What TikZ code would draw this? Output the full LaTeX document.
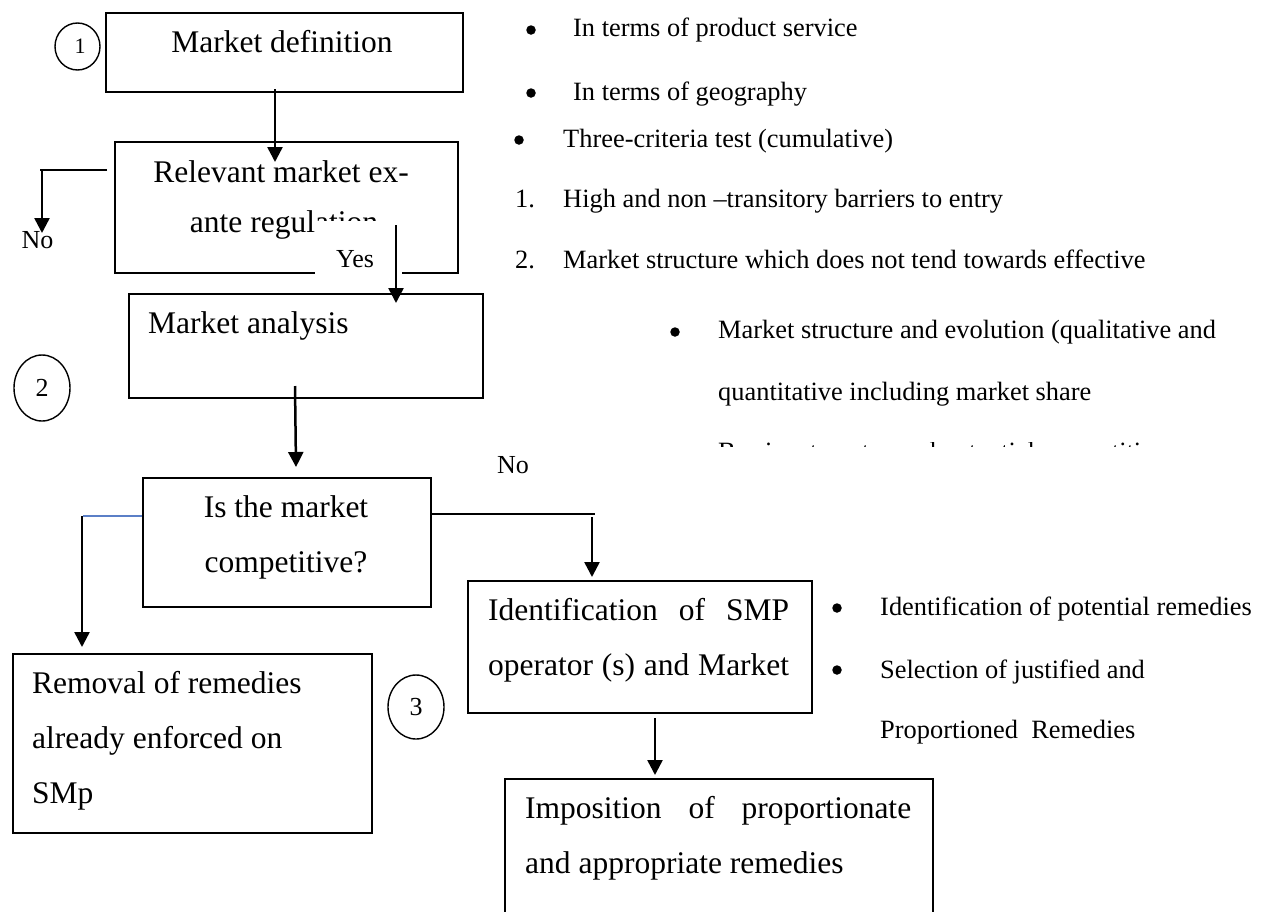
\documentclass[tikz,border=0pt]{standalone}
\usepackage{fontspec}
\setmainfont{Liberation Serif}
\usetikzlibrary{arrows.meta,shapes.geometric}
\begin{document}
\begin{tikzpicture}[x=1pt,y=-1pt,
  box/.style={draw, line width=2pt, rectangle, inner sep=0pt, anchor=north west},
  boxtext/.style={font=\fontsize{31.5}{31.5}\selectfont, inner sep=0pt},
  note/.style={font=\fontsize{26.4}{26.4}\selectfont, inner sep=0pt, anchor=base west},
  lbl/.style={font=\fontsize{26}{26}\selectfont, inner sep=0pt, anchor=base},
  dotmark/.style={circle, fill, inner sep=0pt, minimum size=9.5pt},
  stage/.style={draw, ellipse, line width=1.4pt, inner sep=0pt},
  arr/.style={line width=2.5pt, -{Triangle[length=15pt,width=15pt]}},
  wire/.style={line width=2pt}
]
\useasboundingbox (0,0) rectangle (1271,911);

% ---------- stage 1: market definition ----------
\node[stage, minimum width=45pt, minimum height=47pt] (s1) at (77.5,46.5) {};
\node[font=\fontsize{22}{22}\selectfont, inner sep=0pt] (s1t) at (80,46.5) {1};

\node[box, minimum width=357pt, minimum height=79pt] (def) at (105,12) {};
\node[boxtext, anchor=base] (deft) at (282,52) {Market definition};

\node[box, minimum width=343pt, minimum height=131pt] (rel) at (114,141) {};
\node[boxtext, anchor=base] (relt1) at (281,182) {Relevant market ex-};
\node[boxtext, anchor=base] (relt2) at (284,232) {ante regulation};

\coordinate (a1s) at (275,89);
\coordinate (a1e) at (275,162);
\draw[arr] (a1s) -- (a1e);

% "No" branch on the left
\coordinate (n1a) at (107,170);
\coordinate (n1b) at (40,170);
\coordinate (n1c) at (42,170);
\coordinate (n1d) at (42,233);
\draw[wire] (n1a) -- (n1b);
\node[lbl] (no1) at (37.5,248) {No};
\draw[arr] (n1c) -- (n1d);

% "Yes" label sits on a white patch over the box edge
\node[fill=white, inner sep=0pt, minimum width=87pt, minimum height=57pt, anchor=north west] (yesbg) at (315,221) {};
\node[lbl] (yes) at (355,267) {Yes};
\coordinate (y1s) at (396,225);
\coordinate (y1e) at (396,303);

% ---------- stage 2: market analysis ----------
\node[box, minimum width=354pt, minimum height=104pt] (ana) at (128,293) {};
\node[boxtext, anchor=base west] (anat) at (148,333) {Market analysis};
\draw[arr] (y1s) -- (y1e);

\node[stage, minimum width=56pt, minimum height=66pt] (s2) at (42,388) {};
\node[font=\fontsize{26}{26}\selectfont, inner sep=0pt] (s2t) at (42,388) {2};

\coordinate (a2s) at (295,386);
\coordinate (a2e) at (296,467);
\draw[arr] (a2s) -- (a2e);

\node[box, minimum width=288pt, minimum height=129pt] (comp) at (142,477) {};
\node[boxtext, anchor=base] (compt1) at (286,517) {Is the market};
\node[boxtext, anchor=base] (compt2) at (286,572) {competitive?};

% competitive: removal branch
\coordinate (c1a) at (83,516);
\draw[line width=1.4pt, color={rgb,255:red,91;green,127;blue,199}] (comp.west |- c1a) -- (c1a);
\coordinate (c1b) at (82,516);
\coordinate (c1c) at (82,647);
\draw[arr] (c1b) -- (c1c);

% not competitive: SMP branch
\node[lbl] (no2) at (513,473) {No};
\coordinate (c2a) at (595,514);
\draw[wire] (comp.east |- c2a) -- (c2a);
\coordinate (c2b) at (592,517);
\coordinate (c2c) at (592,577);
\draw[arr] (c2b) -- (c2c);

% ---------- stage 3: remedies ----------
\node[box, minimum width=359pt, minimum height=179pt] (rem) at (12,653) {};
\node[boxtext, anchor=base west] (remt1) at (32,693) {Removal of remedies};
\node[boxtext, anchor=base west] (remt2) at (32,748) {already enforced on};
\node[boxtext, anchor=base west] (remt3) at (32,803) {SMp};

\node[stage, minimum width=56pt, minimum height=64pt] (s3) at (416,707) {};
\node[font=\fontsize{26}{26}\selectfont, inner sep=0pt] (s3t) at (416,707) {3};

\node[box, minimum width=344pt, minimum height=132pt] (smp) at (467,580) {};
\node[boxtext, anchor=base west] (smpt1) at (488,620) {\makebox[301pt][s]{Identification of SMP}};
\node[boxtext, anchor=base west] (smpt2) at (488,675) {\makebox[301pt][s]{operator (s) and Market}};

\coordinate (a3s) at (655,718);
\coordinate (a3e) at (655,775);
\draw[arr] (a3s) -- (a3e);

\node[box, minimum width=428pt, minimum height=145pt] (imp) at (504,778) {};
\node[boxtext, anchor=base west] (impt1) at (525,818) {\makebox[386pt][s]{Imposition of proportionate}};
\node[boxtext, anchor=base west] (impt2) at (525,873) {and appropriate remedies};

% ---------- notes on the right ----------
\node[dotmark] (d1) at (531,30) {};
\node[note] (t1) at (573,36) {In terms of product service};
\node[dotmark] (d2) at (531,93) {};
\node[note] (t2) at (573,100) {In terms of geography};
\node[dotmark] (d3) at (519,140) {};
\node[note] (t3) at (563,147) {Three-criteria test (cumulative)};
\node[note] (k1) at (515,207) {1.};
\node[note] (t4) at (563,207) {High and non –transitory barriers to entry};
\node[note] (k2) at (515,268) {2.};
\node[note] (t5) at (563,268) {Market structure which does not tend towards effective};

\node[dotmark] (d4) at (675,332) {};
\node[note] (t6) at (718,338) {Market structure and evolution (qualitative and};
\node[note] (t7) at (718,400) {quantitative including market share};
\begin{scope}
  \clip (700,442) rectangle (1271,446);
  \node[note] (t8) at (718,460.5) {Barriers to entry and potential competition};
\end{scope}

\node[dotmark] (d5) at (837,608) {};
\node[note] (t9) at (880,615) {Identification of potential remedies};
\node[dotmark] (d6) at (837,670) {};
\node[note] (t10) at (880,678) {Selection of justified and};
\node[note] (t11) at (880,738) {Proportioned\ \ Remedies};
\end{tikzpicture}
\end{document}
